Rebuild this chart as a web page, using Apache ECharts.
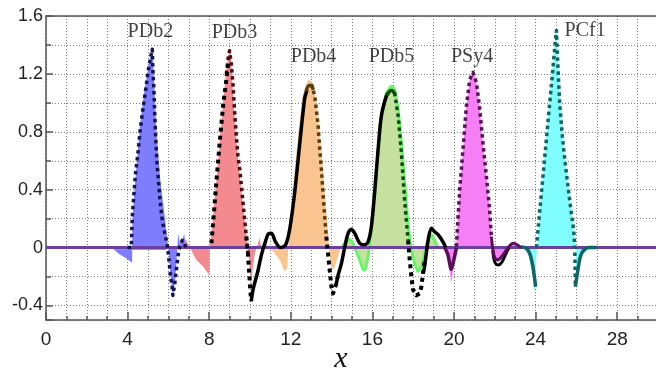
<!DOCTYPE html>
<html>
<head>
<meta charset="utf-8">
<script src="https://cdn.jsdelivr.net/npm/echarts@6/dist/echarts.min.js"></script>
<style>
  html, body { margin: 0; padding: 0; background: #fff; }
  #chart { width: 656px; height: 368px; }
</style>
</head>
<body>
<div id="chart"></div>
<script>
// ---- pulse shapes: [x, value] pairs ----
// PDb2
const pdb2Band = [[3.0,0],[3.3,-0.01],[3.6,-0.045],[3.95,-0.075],[4.22,-0.105],[4.24,0.2],[4.35,0.42],[4.59,0.82],[4.79,1.05],[5.05,1.28],[5.22,1.38],[5.3,1.15],[5.41,0.82],[5.6,0.47],[5.82,0.215],[5.93,0.08],[6.0,0],[6.09,-0.18],[6.22,-0.34],[6.35,-0.2],[6.44,0.0],[6.48,0.1],[6.56,0.03],[6.68,0.04],[6.77,0.1],[6.85,0.01],[7.0,0.0]];
const pdb2Target = [[4.0,0],[4.18,0.0],[4.23,0.215],[4.3,0.354],[4.39,0.516],[4.51,0.655],[4.62,0.817],[4.75,0.956],[4.89,1.095],[5.02,1.23],[5.15,1.33],[5.21,1.37],[5.24,1.23],[5.29,1.09],[5.33,0.93],[5.38,0.75],[5.44,0.585],[5.52,0.45],[5.6,0.31],[5.7,0.19],[5.82,0.1],[5.93,0.03],[6.01,-0.06],[6.09,-0.18],[6.18,-0.27],[6.22,-0.33],[6.31,-0.25],[6.39,-0.155],[6.47,-0.06],[6.55,0.007],[6.68,0.05],[6.88,0.0]];
// PDb3
const pdb3Band = [[6.75,0],[6.85,0.06],[6.95,0.03],[7.05,0.0],[7.37,-0.086],[7.7,-0.13],[8.0,-0.19],[8.03,0.0],[8.19,0.215],[8.35,0.47],[8.51,0.72],[8.68,1.0],[8.84,1.23],[9.0,1.38],[9.09,1.28],[9.17,1.05],[9.33,0.75],[9.5,0.49],[9.66,0.285],[9.82,0.1],[9.9,0.0],[9.99,-0.16],[10.05,-0.28],[10.12,-0.15],[10.25,-0.03],[10.4,0.03],[10.47,0.07],[10.55,0.0],[10.7,0.03],[10.9,0.0]];
const pdb3Target = [[8.84,1.2],[8.95,1.33],[9.0,1.36],[9.09,1.26],[9.17,1.12],[9.25,0.93],[9.33,0.77],[9.41,0.63],[9.5,0.54],[9.58,0.42],[9.66,0.31],[9.74,0.19],[9.82,0.076],[9.9,-0.04]];
// PDb4
const pdb4Band = [[10.6,0],[10.75,0.04],[10.9,0.0],[11.1,-0.02],[11.46,-0.086],[11.7,-0.167],[11.82,-0.14],[11.93,0.1],[12.08,0.33],[12.24,0.61],[12.41,0.84],[12.58,1.05],[12.85,1.16],[13.01,1.15],[13.17,1.07],[13.34,0.91],[13.5,0.655],[13.66,0.377],[13.83,0.1],[13.91,-0.06],[13.99,-0.13],[14.07,-0.155],[14.2,-0.11],[14.32,-0.06],[14.45,0.0],[14.6,0.04],[14.73,0.076],[14.9,0.05],[15.1,0.0]];
const pdb4Target = [[13.01,1.13],[13.17,1.05],[13.25,0.956],[13.34,0.84],[13.42,0.68],[13.5,0.54],[13.58,0.377],[13.66,0.215],[13.74,0.076]];
const pdb4Top = [[12.75,1.08],[12.9,1.12],[13.0,1.12],[13.1,1.09]];
// PDb5
const pdb5Band = [[14.5,0],[14.7,0.04],[14.85,0.06],[15.0,0.04],[15.2,-0.02],[15.38,-0.086],[15.55,-0.155],[15.65,-0.15],[15.8,-0.05],[15.93,0.1],[16.09,0.377],[16.26,0.63],[16.42,0.89],[16.69,1.07],[16.93,1.118],[17.09,1.095],[17.26,0.956],[17.42,0.72],[17.58,0.447],[17.75,0.146],[17.91,-0.016],[18.07,-0.11],[18.24,-0.167],[18.4,-0.13],[18.56,-0.04],[18.73,0.05],[18.89,0.09],[19.05,0.05],[19.2,0.0]];
const pdb5Target = [[17.09,1.07],[17.26,0.91],[17.34,0.79],[17.42,0.655],[17.5,0.49],[17.58,0.33],[17.66,0.19],[17.75,0.05]];
const pdb5Top = [[16.7,1.05],[16.85,1.08],[16.95,1.085],[17.1,1.06]];
// PSy4
const psy4Band = [[19.3,0],[19.55,-0.02],[19.7,-0.08],[19.87,-0.25],[20.0,-0.1],[20.1,0.0],[20.2,0.215],[20.28,0.40],[20.44,0.68],[20.61,0.98],[20.77,1.16],[20.93,1.23],[21.1,1.14],[21.26,0.96],[21.42,0.72],[21.59,0.49],[21.75,0.26],[21.83,0.076],[21.91,-0.016],[22.0,-0.08],[22.16,-0.1],[22.4,-0.06],[22.65,0.007],[22.9,0.04],[23.06,0.03],[23.22,0.007],[23.4,0]];
const psy4Target = [[20.12,0.007],[20.2,0.215],[20.28,0.40],[20.44,0.68],[20.61,0.98],[20.77,1.16],[20.93,1.21],[21.1,1.14],[21.26,0.96],[21.42,0.72],[21.59,0.49],[21.75,0.26],[21.83,0.076]];
const psy4Dip1 = [[19.55,0.0],[19.7,-0.05],[19.87,-0.15],[20.0,-0.08],[20.12,0.0]];
const psy4Dip2 = [[21.83,0.076],[21.91,-0.016],[22.0,-0.07],[22.16,-0.085],[22.4,-0.05],[22.65,0.0],[22.9,0.03],[23.1,0.02],[23.3,0]];
// PCf1
const pcf1Band = [[23.2,0],[23.45,-0.01],[23.63,-0.04],[23.79,-0.13],[23.9,-0.25],[23.96,-0.317],[24.04,-0.05],[24.1,0.05],[24.2,0.25],[24.4,0.58],[24.6,0.9],[24.8,1.2],[24.95,1.42],[25.02,1.5],[25.1,1.3],[25.18,1.08],[25.31,0.82],[25.43,0.63],[25.59,0.44],[25.75,0.26],[25.87,0.12],[25.95,0.0],[26.0,-0.27],[26.08,-0.15],[26.16,-0.1],[26.32,-0.04],[26.57,-0.015],[26.98,0]];
const pcf1Target = [[24.04,0],[24.2,0.25],[24.4,0.55],[24.6,0.86],[24.8,1.16],[24.95,1.4],[25.02,1.5],[25.1,1.23],[25.18,1.0],[25.31,0.77],[25.43,0.61],[25.59,0.42],[25.75,0.24],[25.87,0.12],[25.92,0.0],[25.95,-0.27]];
const pcf1Dip1 = [[23.3,0.007],[23.55,-0.005],[23.71,-0.04],[23.84,-0.11],[23.94,-0.2],[24.0,-0.27]];
const pcf1Dip2 = [[25.95,-0.27],[26.0,-0.22],[26.1,-0.13],[26.2,-0.06],[26.35,-0.02],[26.6,0.0],[27.0,0.0]];

// combined response (solid) and combined target (dotted), piecewise
const sumSolidA = [[10.06,-0.37],[10.15,-0.29],[10.39,-0.16],[10.56,-0.05],[10.75,0.04],[10.9,0.095],[11.05,0.1],[11.25,0.04],[11.5,0.0],[11.75,0.02],[11.95,0.13],[12.19,0.38],[12.44,0.72],[12.68,1.03],[12.8,1.09]];
const sumSolidB = [[14.23,-0.25],[14.32,-0.19],[14.48,-0.11],[14.64,0.0],[14.81,0.1],[14.97,0.127],[15.13,0.1],[15.38,0.03],[15.62,0.02],[15.79,0.04],[15.95,0.146],[16.11,0.38],[16.28,0.68],[16.44,0.91],[16.69,1.05],[16.8,1.07]];
const sumSolidC = [[18.48,-0.18],[18.56,-0.13],[18.73,0.05],[18.89,0.134],[19.05,0.11],[19.22,0.09],[19.46,0.04],[19.6,0.0]];
const sumSolidD = [[21.9,-0.02],[22.0,-0.1],[22.15,-0.12],[22.35,-0.1],[22.55,-0.04],[22.7,0.0]];
const sumDottedA = [[8.11,0.03],[8.19,0.17],[8.35,0.45],[8.51,0.72],[8.68,0.98],[8.84,1.16],[8.95,1.3]];
const sumDottedB = [[9.82,0.076],[9.9,-0.04],[9.95,-0.155],[10.01,-0.29],[10.06,-0.37]];
const sumDottedC = [[13.74,0.076],[13.83,-0.05],[13.91,-0.16],[13.99,-0.27],[14.07,-0.317],[14.15,-0.31],[14.23,-0.25],[14.3,-0.2]];
const sumDottedD = [[17.75,0.05],[17.83,-0.086],[17.91,-0.2],[17.99,-0.29],[18.15,-0.33],[18.32,-0.317],[18.4,-0.27],[18.48,-0.18],[18.56,-0.086]];

const baseline = [[0,0],[30,0]];
const baselineUnder = [[3.4,-0.012],[5.9,-0.012]];

// pulse names and where each name is written (x, value)
const pulseNames = ['PDb2','PDb3','PDb4','PDb5','PSy4','PCf1'];
const nameAnchors = [[4.0,1.489],[8.12,1.482],[12.0,1.316],[15.82,1.316],[19.85,1.316],[25.42,1.50]];

// ---- styling helpers ----
function band(data, color, border) {
  return {
    type: 'line', data: data, symbol: 'none', silent: true, z: 2,
    lineStyle: border ? { color: border, width: 3 } : { width: 0 },
    areaStyle: { color: color, opacity: 1 }
  };
}
function trace(data, color, width, dash, smooth, z) {
  return {
    type: 'line', data: data, symbol: 'none', silent: true, z: z || 4,
    smooth: smooth || false,
    lineStyle: { color: color, width: width, type: dash || 'solid', cap: 'butt', join: 'round' }
  };
}
const DOT = [3.5, 3.5];
const BDOT = [4, 4];

const gridDots = { color: '#7a7a7a', width: 1, type: [1, 2] };
const axisCol = '#555';

const chart = echarts.init(document.getElementById('chart'), null, { renderer: 'canvas' });

const series = [
  band(pdb2Band, '#7d7dfd'),
  band(pdb3Band, '#f38a90'),
  band(pdb4Band, '#f9c48f'),
  band(pdb5Band, '#c6e0a0', '#66f566'),
  band(psy4Band, '#f77ff5'),
  band(pcf1Band, '#80fdfd'),
  trace(baselineUnder, '#e8872a', 1.5, null, false, 3),
  trace(baseline, '#6b3fa0', 3, null, false, 3),
  trace(sumSolidA, '#000', 3.5, null, 0.3),
  trace(sumSolidB, '#000', 3.5, null, 0.3),
  trace(sumSolidC, '#000', 3.5, null, 0.3),
  trace(sumSolidD, '#000', 3, null, 0.3),
  trace(pdb2Target, '#141450', 3.5, DOT),
  trace(pdb3Target, '#4d0a12', 3.5, DOT),
  trace(pdb4Target, '#5c3d0e', 3.5, DOT),
  trace(pdb5Target, '#0d4d0d', 3.5, DOT),
  trace(psy4Target, '#5a0f5a', 3.5, DOT),
  trace(pcf1Target, '#0f6464', 3.5, DOT),
  trace(sumDottedA, '#000', 4, BDOT, false, 5),
  trace(sumDottedB, '#000', 4, BDOT, false, 5),
  trace(sumDottedC, '#000', 4, BDOT, false, 5),
  trace(sumDottedD, '#000', 4, BDOT, false, 5),
  trace(pdb4Top, '#5c3d0e', 3.5, null, 0.4, 5),
  trace(pdb5Top, '#0d4d0d', 3.5, null, 0.4, 5),
  trace(psy4Dip1, '#5a0f5a', 3.5, null, 0.3, 5),
  trace(psy4Dip2, '#5a0f5a', 3, null, 0.3, 5),
  trace(pcf1Dip1, '#0f6464', 3.5, null, 0.3, 5),
  trace(pcf1Dip2, '#0f6464', 3.5, null, 0.3, 5),
  {
    type: 'scatter', symbolSize: 0, silent: true, z: 6,
    data: nameAnchors.map((p, i) => ({ value: p, name: pulseNames[i] })),
    label: {
      show: true, position: [0, 0], align: 'left', verticalAlign: 'middle',
      formatter: p => p.name,
      fontFamily: 'Liberation Serif', fontSize: 20, color: '#111'
    }
  }
];

const yLabel = v => {
  if (Math.abs(v) < 1e-9) return '0';
  const k = Math.round(v * 10);
  if (k % 4 !== 0 || v < -0.45) return '';
  return v.toFixed(1);
};

chart.setOption({
  animation: false,
  backgroundColor: '#fff',
  grid: { left: 46, right: -2, top: 16, bottom: 48, containLabel: false, outerBoundsMode: 'none' },
  xAxis: [{
    type: 'value', min: 0, max: 30, interval: 4, position: 'bottom',
    axisLine: { show: true, onZero: false, lineStyle: { color: axisCol, width: 1.5 } },
    axisTick: { show: true, inside: true, length: 8, lineStyle: { color: axisCol, width: 1.5 } },
    minorTick: { show: true, splitNumber: 4, length: 4, lineStyle: { color: axisCol, width: 1.5 } },
    splitLine: { show: true, lineStyle: gridDots },
    minorSplitLine: { show: true, lineStyle: gridDots },
    axisLabel: { fontFamily: 'Liberation Sans', fontSize: 19, color: '#222', margin: 10, showMaxLabel: false },
    name: 'x', nameLocation: 'middle', nameGap: 24, nameMoveOverlap: false,
    nameTextStyle: { fontFamily: 'Liberation Serif', fontStyle: 'italic', fontSize: 30, color: '#111', padding: [0, 22, 0, 0] }
  }, {
    type: 'value', min: 0, max: 30, position: 'top',
    axisLine: { show: true, onZero: false, lineStyle: { color: axisCol, width: 1.5 } },
    axisTick: { show: false }, axisLabel: { show: false }, splitLine: { show: false }
  }],
  yAxis: [{
    type: 'value', min: -0.5, max: 1.6, splitNumber: 5, minInterval: 0.4, maxInterval: 0.4,
    axisLine: { show: true, onZero: false, lineStyle: { color: axisCol, width: 1.5 } },
    axisTick: { show: true, inside: true, length: 7, lineStyle: { color: axisCol, width: 1.5 } },
    splitLine: { show: false },
    axisLabel: { fontFamily: 'Liberation Sans', fontSize: 18, color: '#222', margin: 3, formatter: yLabel, showMinLabel: true }
  }, {
    type: 'value', min: -0.5, max: 1.6, splitNumber: 10, minInterval: 0.2, maxInterval: 0.2, position: 'left',
    axisLine: { show: false },
    axisTick: { show: true, inside: true, length: 5, lineStyle: { color: axisCol, width: 1.5 } },
    splitLine: { show: true, lineStyle: gridDots },
    axisLabel: { show: false }
  }],
  series: series
});
</script>
</body>
</html>
